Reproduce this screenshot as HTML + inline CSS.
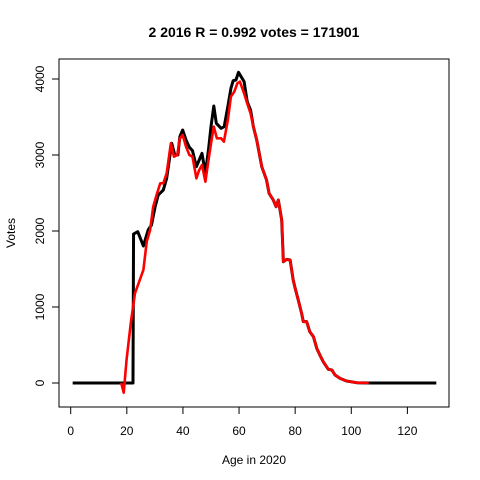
<!DOCTYPE html>
<html><head><meta charset="utf-8"><style>body{margin:0;background:#fff}svg{display:block;font-family:"Liberation Sans",Arial,sans-serif}</style></head>
<body>
<svg id="chart" width="480" height="480" viewBox="0 0 480 480">
<text x="254" y="37" text-anchor="middle" font-size="14" font-weight="bold">2 2016 R = 0.992 votes = 171901</text>
<rect x="59" y="59" width="390" height="348" fill="none" stroke="#000" stroke-width="1"/>
<g id="xaxis"></g>
<g id="yaxis"></g>
<text x="254" y="464" text-anchor="middle" font-size="12">Age in 2020</text>
<text transform="translate(15,233) rotate(-90)" text-anchor="middle" font-size="12">Votes</text>
<g id="series"></g>
</svg>
<script>
const xTicks=[0,20,40,60,80,100,120];
const yTicks=[0,1000,2000,3000,4000];
const blackAges=[0.7,22.2,22.4,23.9,25.9,27.6,28.8,30.1,31.2,33.0,34.2,36.0,37.1,38.2,38.9,39.9,41.1,42.3,43.4,44.8,45.8,46.8,48.0,49.1,50.0,51.0,51.9,53.6,54.7,56.0,57.1,57.9,58.9,59.8,61.8,62.9,64.1,65.1,66.3,68.1,69.8,70.7,72.2,73.2,74.0,75.2,75.8,77.0,78.2,79.3,80.0,81.1,82.3,82.9,84.1,85.2,86.5,87.7,88.8,90.0,91.8,93.1,94.2,96.0,98.3,101.9,106.7,130.3];
const blackVotes=[0,0,1960,1991,1803,2013,2079,2320,2474,2539,2693,3154,3000,3000,3241,3329,3197,3101,3057,2846,2934,3022,2759,3066,3373,3645,3417,3351,3373,3636,3877,3978,3987,4088,3965,3702,3592,3373,3197,2846,2671,2496,2408,2320,2408,2145,1596,1627,1618,1355,1246,1092,917,807,807,675,610,456,368,281,180,171,105,61,26,4,0,0];
const redAges=[18.0,18.9,19.9,21.4,22.9,24.4,25.9,27.1,28.3,29.4,30.6,31.9,33.0,34.2,35.7,36.8,38.0,38.9,39.9,41.1,42.3,43.4,44.8,45.8,46.8,48.0,49.1,50.2,51.0,52.1,53.6,54.6,56.0,57.1,58.3,59.4,60.3,61.8,62.9,64.1,65.1,66.3,68.1,69.8,70.7,72.2,73.2,74.0,75.2,75.8,77.0,78.2,79.3,80.0,81.1,82.3,82.9,84.1,85.2,86.5,87.7,88.8,90.0,91.8,93.1,94.2,96.0,98.3,101.9,106.2];
const redVotes=[0,-127,303,785,1180,1333,1487,1860,2013,2320,2474,2627,2627,2759,3154,2978,3000,3219,3263,3110,3000,2978,2693,2803,2868,2649,2934,3197,3373,3219,3219,3175,3461,3768,3833,3943,3965,3811,3680,3548,3373,3197,2846,2671,2496,2408,2320,2408,2145,1596,1627,1618,1355,1246,1092,917,807,807,675,610,456,368,281,180,171,105,61,26,4,0];
const NS="http://www.w3.org/2000/svg";
const sx=a=>70.7+a*(336.7/120);
const sy=v=>383-v*(304/4000);
function mk(t,at,parent){const e=document.createElementNS(NS,t);for(const k in at)e.setAttribute(k,at[k]);parent.appendChild(e);return e;}
const xa=document.getElementById('xaxis'),ya=document.getElementById('yaxis'),sr=document.getElementById('series');
mk('line',{x1:sx(xTicks[0]),x2:sx(xTicks[xTicks.length-1]),y1:407,y2:407,stroke:'#000'},xa);
xTicks.forEach(t=>{const l=mk('line',{x1:sx(t),x2:sx(t),y1:407,y2:414,stroke:'#000'},xa);


const tx=mk('text',{x:sx(t),y:435,'text-anchor':'middle','font-size':12},xa);tx.textContent=t;

});
mk('line',{x1:59,x2:59,y1:sy(yTicks[0]),y2:sy(yTicks[yTicks.length-1]),stroke:'#000'},ya);
yTicks.forEach(t=>{const l=mk('line',{x1:52,x2:59,y1:sy(t),y2:sy(t),stroke:'#000'},ya);


const tx=mk('text',{transform:`translate(44,${sy(t)}) rotate(-90)`,'text-anchor':'middle','font-size':12},ya);tx.textContent=t;

});
function line(ages,vals,col,w,name){const p=mk('polyline',{points:ages.map((a,i)=>sx(a)+','+sy(vals[i])).join(' '),fill:'none',stroke:col,'stroke-width':w,'stroke-linejoin':'round'},sr);

}
line(blackAges,blackVotes,'#000',3,'actual-votes-line');
line(redAges,redVotes,'#f00',2.6,'predicted-votes-line');
</script>
</body></html>
